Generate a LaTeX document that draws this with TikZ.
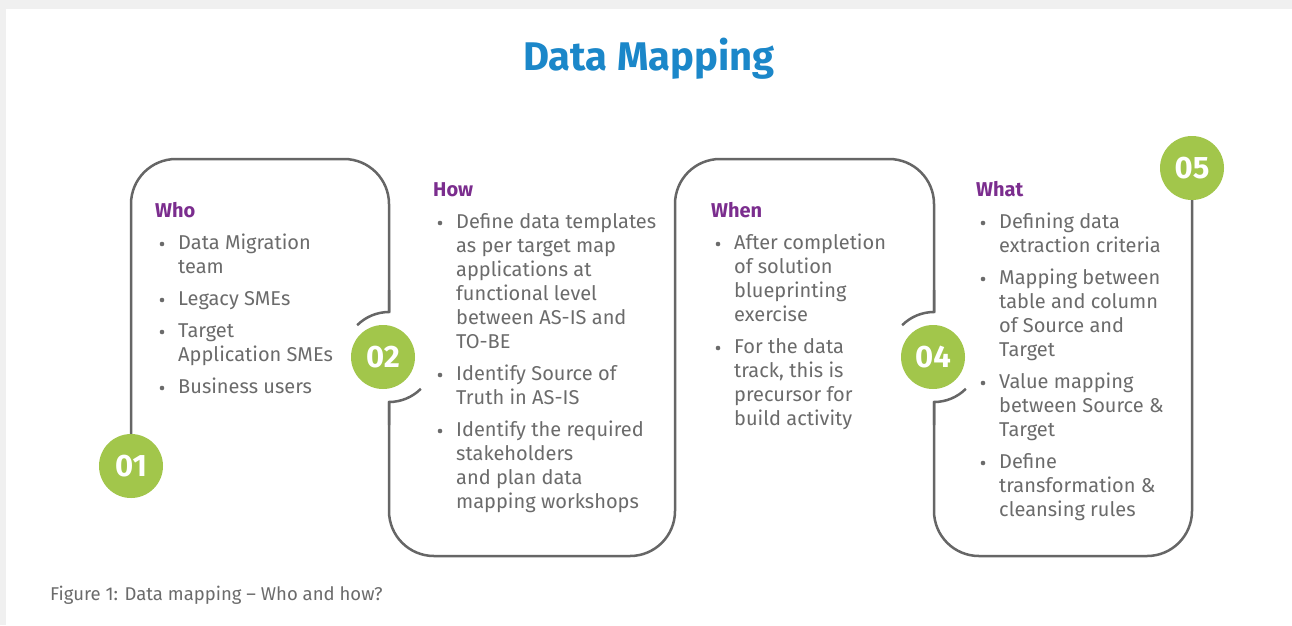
\documentclass[tikz,border=0pt]{standalone}
\usepackage{fontspec}
\setmainfont{Fira Sans}
\usetikzlibrary{calc}
\definecolor{titleblue}{HTML}{1B87C9}
\definecolor{headpurple}{HTML}{7B2D8E}
\definecolor{stepgreen}{HTML}{A2C64B}
\definecolor{textgray}{HTML}{6B6B6B}
\definecolor{linegray}{HTML}{666666}
\definecolor{bggray}{HTML}{F0F0F0}
\tikzset{num/.style={circle,fill=stepgreen,minimum size=64pt,inner sep=0pt,text=white,font=\fontsize{31}{31}\selectfont\bfseries}}
\tikzset{head/.style={anchor=base west,inner sep=0pt,text=headpurple,font=\fontsize{20}{24}\selectfont\bfseries}}
\tikzset{item/.style={anchor=base west,inner sep=0pt,text=textgray,font=\fontsize{20}{24}\selectfont}}
\tikzset{frame/.style={draw=linegray,line width=2.5pt}}
\newcommand{\lines}[1]{\parbox[t]{230pt}{\raggedright #1}}

\begin{document}
\begin{tikzpicture}[x=1pt,y=-1pt]
  \useasboundingbox (0,0) rectangle (1292,625);
  \fill[bggray] (0,0) rectangle (1292,625);
  \fill[white] (6,9) rectangle (1292,625);

  \node[anchor=base,inner sep=0pt,text=titleblue,font=\fontsize{40}{40}\selectfont\bfseries] (title) at (649,70) {Data Mapping};

  % step numbers
  \node[num] (n1) at (131,466) {01};
  \node[num] (n2) at (383,357) {02};
  \node[num] (n4) at (933,357) {04};
  \node[num] (n5) at (1192,168) {05};
  \coordinate (k2) at (389,357);
  \coordinate (k4) at (934,357);

  % the winding frame
  \draw[frame,rounded corners=45pt] (n1.north) -- (131,159) -- (389,159) -- (389,312);
  \draw[frame] (389,290) -- (389,312) arc[start angle=90,end angle=135,radius=45pt];
  \draw[frame] (k2) ++(-45:45pt) arc[start angle=-45,end angle=-90,radius=45pt] -- (389,425);
  \draw[frame,rounded corners=45pt] (389,402) -- (389,556) -- (675,556) -- (675,159) -- (934,159) -- (934,312);
  \draw[frame] (934,290) -- (934,312) arc[start angle=90,end angle=135,radius=45pt];
  \draw[frame] (k4) ++(-45:45pt) arc[start angle=-45,end angle=-90,radius=45pt] -- (934,425);
  \draw[frame,rounded corners=45pt] (934,402) -- (934,556) -- (1192,556) -- (n5.south);

  % Who
  \node[head] (who) at (155,217) {Who};
  \foreach \n/\y/\t in {w1/249/{Data Migration\\team}, w2/305/{Legacy SMEs},
      w3/337/{Target\\Application SMEs}, w4/393/{Business users}}{
    \fill[textgray] (162,\y-5) circle (2.3pt);
    \node[item] (\n) at (178,\y) {\lines{\t}};
  }

  % How
  \node[head] (how) at (433,196) {How};
  \foreach \n/\y/\t in {h1/228/{Define data templates\\as per target map\\applications at\\functional level\\between AS-IS and\\TO-BE},
      h2/380/{Identify Source of\\Truth in AS-IS},
      h3/436/{Identify the required\\stakeholders\\and plan data\\mapping workshops}}{
    \fill[textgray] (440,\y-5) circle (2.3pt);
    \node[item] (\n) at (456,\y) {\lines{\t}};
  }

  % When
  \node[head] (when) at (711,217) {When};
  \foreach \n/\y/\t in {t1/249/{After completion\\of solution\\blueprinting\\exercise},
      t2/353/{For the data\\track, this is\\precursor for\\build activity}}{
    \fill[textgray] (718,\y-5) circle (2.3pt);
    \node[item] (\n) at (734,\y) {\lines{\t}};
  }

  % What
  \node[head] (what) at (976,196) {What};
  \foreach \n/\y/\t in {a1/228/{Defining data\\extraction criteria},
      a2/284/{Mapping between\\table and column\\of Source and\\Target},
      a3/388/{Value mapping\\between Source \&\\Target},
      a4/468/{Define\\transformation \&\\cleansing rules}}{
    \fill[textgray] (983,\y-5) circle (2.3pt);
    \node[item] (\n) at (999,\y) {\lines{\t}};
  }

  \node[anchor=base west,inner sep=0pt,text=textgray,font=\fontsize{18.5}{20}\selectfont] (caption) at (50,600) {Figure 1: Data mapping -- Who and how?};
\end{tikzpicture}
\end{document}
